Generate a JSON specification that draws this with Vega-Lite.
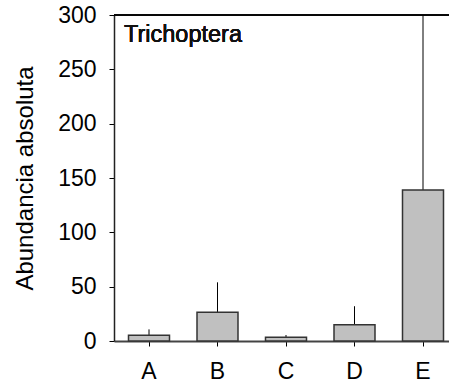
{
  "$schema": "https://vega.github.io/schema/vega-lite/v6.json",
  "autosize": {"type": "none"},
  "padding": {"left": 114, "top": 15, "right": 0, "bottom": 46},
  "width": 335,
  "height": 326,
  "background": "white",
  "config": {
    "view": {"stroke": null},
    "font": "Liberation Sans"
  },
  "data": {
    "values": [
      {"site": "A", "mean": 5.2, "upper": 10.7},
      {"site": "B", "mean": 26.4, "upper": 54},
      {"site": "C", "mean": 3.4, "upper": 5.5},
      {"site": "D", "mean": 15, "upper": 32},
      {"site": "E", "mean": 139, "upper": 340}
    ]
  },
  "layer": [
    {
      "mark": {"type": "rule", "stroke": "#000", "strokeWidth": 1, "clip": true},
      "encoding": {
        "x": {"field": "site", "type": "nominal"},
        "y": {"field": "mean", "type": "quantitative"},
        "y2": {"field": "upper"}
      }
    },
    {
      "mark": {"type": "bar", "fill": "#c0c0c0", "stroke": "#333", "strokeWidth": 1.5},
      "encoding": {
        "x": {
          "field": "site", "type": "nominal",
          "scale": {"type": "band", "paddingInner": 0.4015, "paddingOuter": 0.146, "align": 0.725},
          "axis": {
            "title": null, "labelAngle": 0, "labelAlign": "center", "labelFontSize": 23, "labelColor": "#000",
            "labelPadding": 25, "tickSize": 5, "tickColor": "#000", "domainColor": "#444",
            "domainWidth": 2, "tickWidth": 1
          }
        },
        "y": {
          "field": "mean", "type": "quantitative",
          "scale": {"domain": [0, 300], "nice": false},
          "axis": {
            "title": "Abundancia absoluta", "titleFontSize": 24, "titleFontWeight": "normal",
            "titleColor": "#000", "titlePadding": 20,
            "values": [0, 50, 100, 150, 200, 250, 300], "grid": false,
            "labelFontSize": 23, "labelColor": "#000", "labelPadding": 13,
            "tickSize": 5, "tickColor": "#000", "domainColor": "#222", "domainWidth": 1.5
          }
        }
      }
    },
    {
      "mark": {"type": "rule", "stroke": "#000", "strokeWidth": 1},
      "encoding": {
        "y": {"datum": 300, "type": "quantitative"}
      }
    },
    {
      "mark": {"type": "text", "text": "Trichoptera", "align": "left", "baseline": "top", "fontSize": 23.5, "fontWeight": 400, "strokeWidth": 0, "dx": -25, "dy": 8, "fill": "#111"},
      "encoding": {
        "x": {"datum": "A", "type": "nominal"},
        "y": {"datum": 300, "type": "quantitative"}
      }
    }
  ]
}
